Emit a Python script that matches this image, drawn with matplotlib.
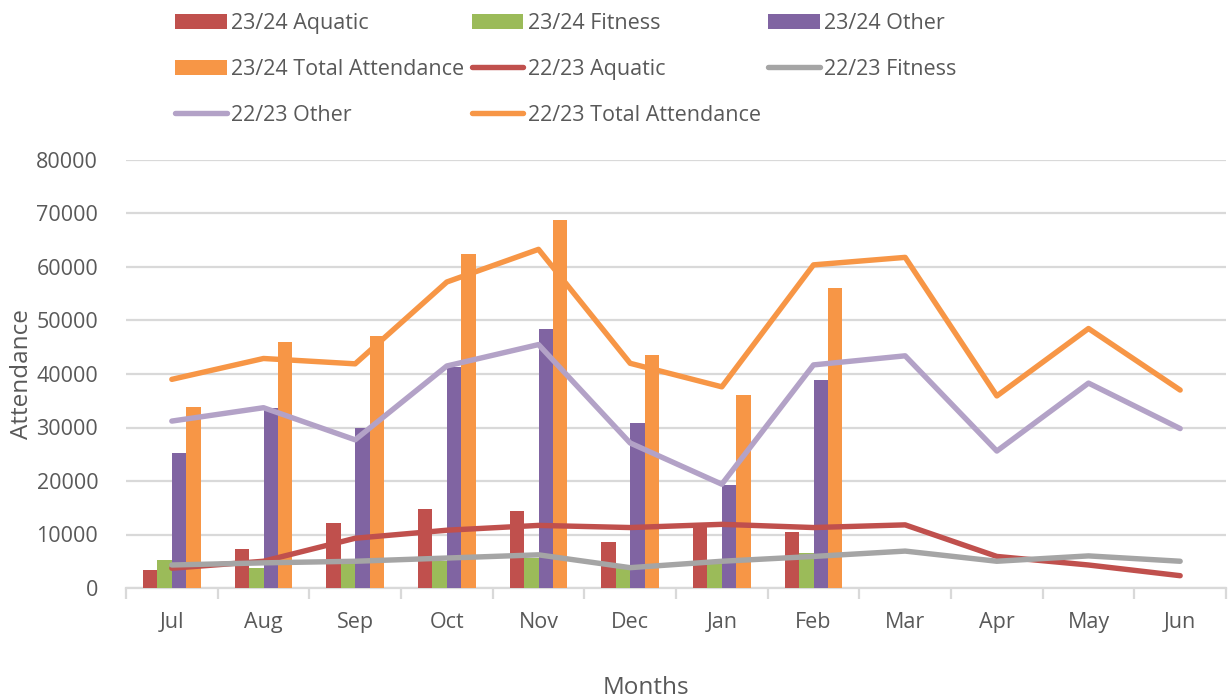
import matplotlib.pyplot as plt
import numpy as np

plt.rcParams['font.family'] = ['Open Sans', 'DejaVu Sans']

months = ['Jul', 'Aug', 'Sep', 'Oct', 'Nov', 'Dec', 'Jan', 'Feb', 'Mar', 'Apr', 'May', 'Jun']

# 23/24 (bars, Jul-Feb only)
aquatic_2324 = [3300, 7300, 12100, 14800, 14400, 8600, 11500, 10500]
fitness_2324 = [5200, 3800, 4800, 5000, 5600, 3700, 4500, 6500]
other_2324 = [25300, 33700, 30000, 41400, 48400, 30900, 19200, 38900]
total_2324 = [33800, 46000, 47100, 62400, 68700, 43600, 36000, 56000]

# 22/23 (lines, full year)
aquatic_2223 = [3700, 5000, 9300, 10800, 11700, 11300, 11900, 11300, 11800, 5900, 4300, 2300]
fitness_2223 = [4300, 4700, 5000, 5600, 6200, 3800, 5000, 5900, 6900, 5000, 6000, 5000]
other_2223 = [31200, 33700, 27700, 41500, 45500, 27100, 19400, 41700, 43400, 25600, 38300, 29800]
total_2223 = [39000, 42900, 41900, 57200, 63300, 42000, 37600, 60400, 61800, 35900, 48500, 37000]

RED = '#C0504D'
GREEN = '#9BBB59'
PURPLE = '#8064A2'
ORANGE = '#F79646'
GRAY = '#A5A5A5'
LILAC = '#B3A2C7'
TXT = '#595959'
GRID = '#D9D9D9'

fig = plt.figure(figsize=(12.32, 6.98), dpi=100)
ax = fig.add_axes([126/1232, 1-588/698, 1100/1232, 428/698])

x = np.arange(len(months))
xb = np.arange(len(total_2324))
w = 0.157
b1 = ax.bar(xb - 1.5*w, aquatic_2324, w, color=RED, zorder=2, label='23/24 Aquatic')
b2 = ax.bar(xb - 0.5*w, fitness_2324, w, color=GREEN, zorder=2, label='23/24 Fitness')
b3 = ax.bar(xb + 0.5*w, other_2324, w, color=PURPLE, zorder=2, label='23/24 Other')
b4 = ax.bar(xb + 1.5*w, total_2324, w, color=ORANGE, zorder=2, label='23/24 Total Attendance')

lw = 3.9
l1, = ax.plot(x, aquatic_2223, color=RED, lw=lw, solid_capstyle='round', solid_joinstyle='round', zorder=3, label='22/23 Aquatic')
l2, = ax.plot(x, fitness_2223, color=GRAY, lw=lw, solid_capstyle='round', solid_joinstyle='round', zorder=3, label='22/23 Fitness')
l3, = ax.plot(x, other_2223, color=LILAC, lw=lw, solid_capstyle='round', solid_joinstyle='round', zorder=3, label='22/23 Other')
l4, = ax.plot(x, total_2223, color=ORANGE, lw=lw, solid_capstyle='round', solid_joinstyle='round', zorder=3, label='22/23 Total Attendance')

ax.set_xlim(-0.5, len(months) - 0.5)
ax.set_ylim(0, 80000)
ax.set_yticks(np.arange(0, 80001, 10000))
ax.yaxis.grid(True, color=GRID, lw=1.6, zorder=0)
ax.set_axisbelow(True)
for s in ['top', 'right', 'left']:
    ax.spines[s].set_visible(False)
ax.spines['bottom'].set_color(GRID)
ax.spines['bottom'].set_linewidth(1.6)
ax.spines['bottom'].set_zorder(1)

ax.set_xticks(x)
ax.set_xticklabels(months)
ax.set_xticks(np.arange(-0.5, len(months)), minor=True)
ax.tick_params(axis='x', which='major', length=0, pad=17, labelsize=15.5, labelcolor=TXT)
ax.tick_params(axis='x', which='minor', length=8, width=1.6, color=GRID)
ax.tick_params(axis='y', length=0, pad=20, labelsize=15.5, labelcolor=TXT)

ax.set_xlabel('Months', fontsize=17.5, color=TXT)
ax.xaxis.set_label_coords((646 - 126) / 1100, -0.205)
ax.set_ylabel('Attendance', fontsize=17.5, color=TXT, labelpad=2)

handles = [b1, b4, l3, b2, l1, l4, b3, l2]
fig.legend(handles, [h.get_label() for h in handles], ncol=3, loc='upper left',
           bbox_to_anchor=(175/1232, 1 - 13/698), frameon=False, fontsize=15.5,
           handlelength=2.4, handleheight=0.7, handletextpad=0.2, columnspacing=0.35,
           labelspacing=1.15, borderpad=0, borderaxespad=0, labelcolor=TXT)

fig.savefig('out.png', dpi=100)
